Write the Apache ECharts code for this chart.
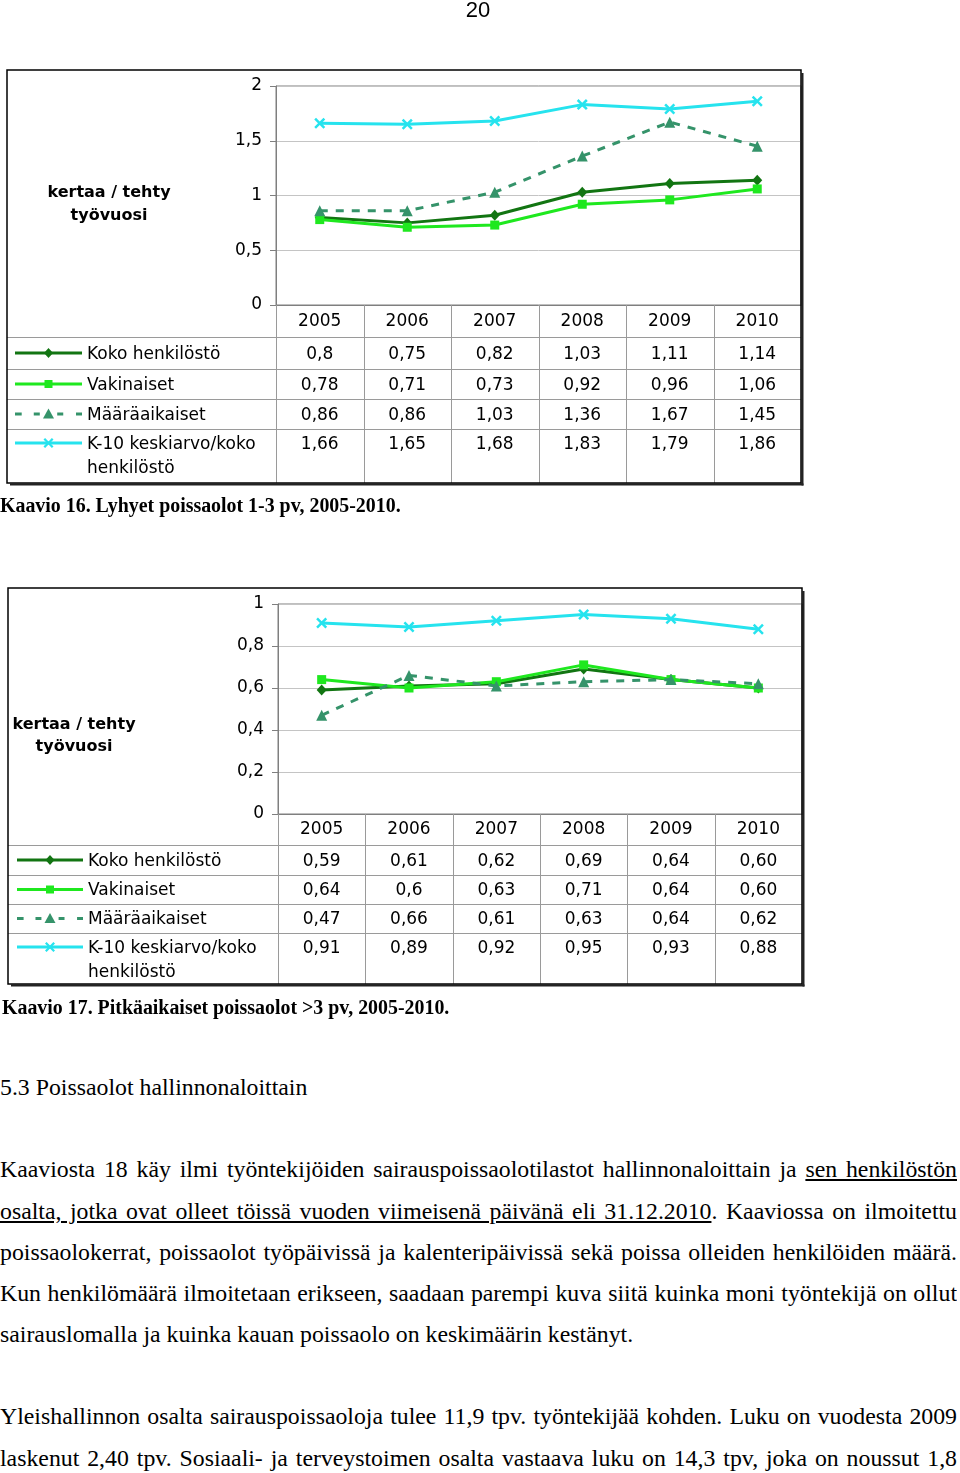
<!DOCTYPE html>
<html><head><meta charset="utf-8">
<script src="https://cdn.jsdelivr.net/npm/echarts@6/dist/echarts.min.js"></script>
<style>
html,body{margin:0;padding:0;background:#fff;}
body{width:960px;height:1473px;position:relative;overflow:hidden;}
#chart{position:absolute;left:0;top:0;width:960px;height:1040px;}
.t{position:absolute;left:0;font-family:"Liberation Serif","Times New Roman",serif;color:#000;white-space:nowrap;z-index:2;}
.pg{position:absolute;left:0;width:956px;text-align:center;font-family:"Liberation Sans",Arial,sans-serif;font-size:22px;line-height:24px;top:-2px;z-index:2;}
.cap{font-weight:bold;font-size:19.9px;line-height:24px;}
.h{font-size:23.8px;line-height:28px;}
.ln{position:absolute;left:0;width:957px;height:28px;overflow:hidden;font-family:"Liberation Serif","Times New Roman",serif;font-size:23.8px;line-height:28px;text-align:justify;text-align-last:justify;color:#000;z-index:2;}
.ln.last{text-align:left;text-align-last:left;}
.u{text-decoration:underline;}
</style></head>
<body>
<div class="pg">20</div>
<div id="chart"></div>
<div class="t cap" style="top:493px;">Kaavio 16. Lyhyet poissaolot 1-3 pv, 2005-2010.</div>
<div class="t cap" style="top:995px;left:2px;">Kaavio 17. Pitkäaikaiset poissaolot &gt;3 pv, 2005-2010.</div>
<div class="t h" style="top:1073px;">5.3 Poissaolot hallinnonaloittain</div>
<div class="ln" style="top:1155px;">Kaaviosta 18 käy ilmi työntekijöiden sairauspoissaolotilastot hallinnonaloittain ja <span class="u">sen henkilöstön</span></div>
<div class="ln" style="top:1197px;"><span class="u">osalta, jotka ovat olleet töissä vuoden viimeisenä päivänä eli 31.12.2010</span>. Kaaviossa on ilmoitettu</div>
<div class="ln" style="top:1238px;">poissaolokerrat, poissaolot työpäivissä ja kalenteripäivissä sekä poissa olleiden henkilöiden määrä.</div>
<div class="ln" style="top:1279px;">Kun henkilömäärä ilmoitetaan erikseen, saadaan parempi kuva siitä kuinka moni työntekijä on ollut</div>
<div class="ln last" style="top:1320px;">sairauslomalla ja kuinka kauan poissaolo on keskimäärin kestänyt.</div>
<div class="ln" style="top:1402px;">Yleishallinnon osalta sairauspoissaoloja tulee 11,9 tpv. työntekijää kohden. Luku on vuodesta 2009</div>
<div class="ln" style="top:1444px;">laskenut 2,40 tpv. Sosiaali- ja terveystoimen osalta vastaava luku on 14,3 tpv, joka on noussut 1,8</div>
<script>
// ---------- data ----------
const years = ['2005', '2006', '2007', '2008', '2009', '2010'];
const seriesNames = ['Koko henkilöstö', 'Vakinaiset', 'Määräaikaiset', 'K-10 keskiarvo/koko henkilöstö'];
const yAxisTitle = ['kertaa / tehty', 'työvuosi'];

// Kaavio 16 (lyhyet poissaolot 1-3 pv)
const c1Koko = ['0,8', '0,75', '0,82', '1,03', '1,11', '1,14'];
const c1Vak  = ['0,78', '0,71', '0,73', '0,92', '0,96', '1,06'];
const c1Maar = ['0,86', '0,86', '1,03', '1,36', '1,67', '1,45'];
const c1K10  = ['1,66', '1,65', '1,68', '1,83', '1,79', '1,86'];
const c1YTicks = [0, 0.5, 1, 1.5, 2];

// Kaavio 17 (pitkäaikaiset poissaolot >3 pv)
const c2Koko = ['0,59', '0,61', '0,62', '0,69', '0,64', '0,60'];
const c2Vak  = ['0,64', '0,6', '0,63', '0,71', '0,64', '0,60'];
const c2Maar = ['0,47', '0,66', '0,61', '0,63', '0,64', '0,62'];
const c2K10  = ['0,91', '0,89', '0,92', '0,95', '0,93', '0,88'];
const c2YTicks = [0, 0.2, 0.4, 0.6, 0.8, 1];

// ---------- helpers ----------
const num = s => parseFloat(s.replace(',', '.'));
const fmt = v => String(+(+v).toFixed(2)).replace('.', ',');
const FONT = 'DejaVu Sans';
const colors = ['#127512', '#1fe81f', '#35936a', '#26e3ee'];
const XPTS = [[1.6,0],[5,3.4],[8.4,0],[10,1.6],[6.6,5],[10,8.4],[8.4,10],[5,6.6],[1.6,10],[0,8.4],[3.4,5],[0,1.6]];
const XPATH = 'path://M' + XPTS.map(p => p.join(',')).join('L') + 'Z';
const symbols = ['diamond', 'rect', 'triangle', XPATH];
const symbolSizes = [[10, 11], 9, 11, 11];
const TXT_DY = 1.5;

const layouts = [
  {box: [7, 70, 801, 483], grid: {left: 276, top: 86, width: 525, height: 219},
   rows: [305, 337, 369, 399, 429, 483], ticks: c1YTicks, titleX: 109, titleY: [191, 214],
   keyX: [15, 82], textX: 87, labelMargin: 8, data: [c1Koko, c1Vak, c1Maar, c1K10]},
  {box: [8, 588, 802, 984], grid: {left: 278, top: 604, width: 524, height: 210},
   rows: [814, 845, 875, 904, 933, 984], ticks: c2YTicks, titleX: 74, titleY: [723, 745],
   keyX: [17, 83], textX: 88, labelMargin: 7, data: [c2Koko, c2Vak, c2Maar, c2K10]}
];

function txt(x, y, text, opts) {
  opts = opts || {};
  return {type: 'text', x: x, y: y, z: 10, silent: true,
    style: {text: text, fill: '#000', fontSize: opts.size || 17, fontFamily: FONT,
      fontWeight: opts.weight || 'normal',
      align: opts.align || 'left', textAlign: opts.align || 'left',
      verticalAlign: 'middle', textVerticalAlign: 'middle'}};
}
function seg(x1, y1, x2, y2, color, w, dash) {
  const s = {stroke: color, lineWidth: w};
  if (dash) s.lineDash = dash;
  return {type: 'line', z: 5, silent: true, shape: {x1: x1, y1: y1, x2: x2, y2: y2}, style: s};
}

const grids = [], xAxes = [], yAxes = [], series = [], graphics = [];

layouts.forEach((L, ci) => {
  grids.push(Object.assign({show: true, borderColor: '#7f7f7f', borderWidth: 1, backgroundColor: '#fff'}, L.grid));
  xAxes.push({type: 'category', gridIndex: ci, data: years, boundaryGap: true,
    axisLine: {show: true, lineStyle: {color: '#7f7f7f', width: 1}},
    axisTick: {show: false}, splitLine: {show: false},
    axisLabel: {color: '#000', fontSize: 17, fontFamily: FONT, margin: L.labelMargin, interval: 0}});
  const tk = L.ticks;
  yAxes.push({type: 'value', gridIndex: ci, min: tk[0], max: tk[tk.length - 1], interval: tk[1] - tk[0],
    axisLine: {show: true, lineStyle: {color: '#7f7f7f', width: 1}},
    axisTick: {show: true, length: 6, lineStyle: {color: '#7f7f7f'}},
    splitLine: {show: true, lineStyle: {color: '#c4c4c4', width: 1}},
    axisLabel: {color: '#000', fontSize: 17, fontFamily: FONT, margin: 14, formatter: fmt}});

  L.data.forEach((arr, k) => {
    series.push({type: 'line', name: seriesNames[k], xAxisIndex: ci, yAxisIndex: ci,
      data: arr.map(num), symbol: symbols[k], symbolSize: symbolSizes[k], showSymbol: true,
      showAllSymbol: true, symbolKeepAspect: true, animation: false, silent: true, z: 3 + k,
      lineStyle: {color: colors[k], width: 3, type: k === 2 ? [8, 8] : 'solid'},
      itemStyle: {color: colors[k], borderWidth: 0}});
  });

  const [bx0, by0, bx1, by1] = L.box;
  const gl = L.grid.left, colW = L.grid.width / years.length;
  const R = L.rows;
  // outer frame with shadow
  graphics.push({type: 'rect', z: 8, silent: true, shape: {x: bx0, y: by0, width: bx1 - bx0, height: by1 - by0},
    style: {fill: 'none', stroke: '#000', lineWidth: 1.5}});
  graphics.push(seg(bx1 + 1.5, by0 + 3, bx1 + 1.5, by1 + 2.5, '#222', 2));
  graphics.push(seg(bx0 + 3, by1 + 1.5, bx1 + 2.5, by1 + 1.5, '#222', 2));
  // table grid
  for (let r = 1; r <= 4; r++) graphics.push(seg(bx0, R[r] + 0.5, bx1, R[r] + 0.5, '#9a9a9a', 1));
  for (let c = 0; c < years.length; c++) {
    const x = Math.round(gl + c * colW) + 0.5;
    graphics.push(seg(x, R[0], x, by1, '#9a9a9a', 1));
  }
  // table values and legend
  L.data.forEach((arr, k) => {
    const yc = k < 3 ? (R[k + 1] + R[k + 2]) / 2 : R[4] + 14;
    arr.forEach((s, c) => graphics.push(txt(gl + (c + 0.5) * colW, yc + TXT_DY, s, {align: 'center'})));
    const [kx0, kx1] = L.keyX, kc = (kx0 + kx1) / 2, kw = kx1 - kx0;
    if (k === 2) {
      [[0, 0.1], [0.28, 0.37], [0.63, 0.72], [0.91, 1]].forEach(f =>
        graphics.push(seg(kx0 + f[0] * kw, yc, kx0 + f[1] * kw, yc, colors[k], 3)));
    } else {
      graphics.push(seg(kx0, yc, kx1, yc, colors[k], 3));
    }
    let m;
    if (k === 0) m = {type: 'polygon', shape: {points: [[kc, yc - 5], [kc + 4.5, yc], [kc, yc + 5], [kc - 4.5, yc]]}};
    else if (k === 1) m = {type: 'rect', shape: {x: kc - 4, y: yc - 4, width: 8, height: 8}};
    else if (k === 2) m = {type: 'polygon', shape: {points: [[kc, yc - 5.5], [kc + 5.5, yc + 4.5], [kc - 5.5, yc + 4.5]]}};
    else m = {type: 'polygon', shape: {points: XPTS.map(p => [kc - 5 + p[0], yc - 5 + p[1]])}};
    m.z = 6; m.silent = true; m.style = {fill: colors[k]};
    graphics.push(m);
    const parts = k === 3 ? ['K-10 keskiarvo/koko', 'henkilöstö'] : [seriesNames[k]];
    parts.forEach((p, j) => graphics.push(txt(L.textX, yc + TXT_DY + j * 24, p)));
  });
  // y-axis title
  yAxisTitle.forEach((t, j) => graphics.push(txt(L.titleX, L.titleY[j] + TXT_DY, t, {align: 'center', weight: 'bold', size: 16})));
});

const chart = echarts.init(document.getElementById('chart'), null, {renderer: 'canvas'});
chart.setOption({
  animation: false,
  backgroundColor: '#fff',
  grid: grids, xAxis: xAxes, yAxis: yAxes, series: series,
  graphic: {elements: graphics}
});
</script>
</body></html>
